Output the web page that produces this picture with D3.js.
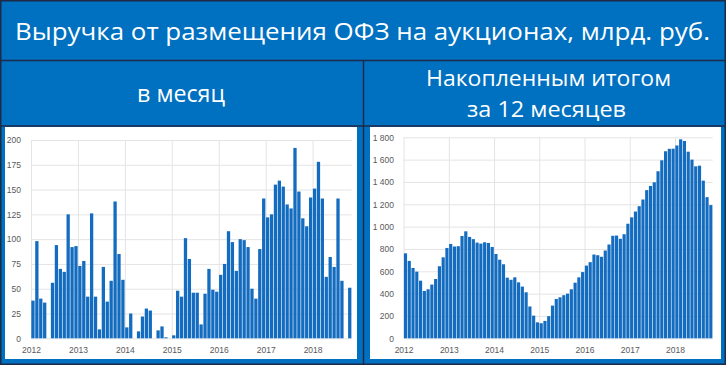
<!DOCTYPE html>
<html>
<head>
<meta charset="utf-8">
<script src="https://cdn.jsdelivr.net/npm/d3@7"></script>
<style>
  body { margin: 0; background: #0070c0; }
  svg { display: block; font-family: 'Open Sans', sans-serif; }
  .axis text { fill: #595959; font-size: 8.5px; }
  .axis .domain { display: none; }
  .axis line { stroke: #e4e4e4; }
</style>
</head>
<body>
<div id="chart"></div>
<script>
// Тексты
const title = 'Выручка от размещения ОФЗ на аукционах, млрд. руб.';
const leftHeader = ['в месяц'];
const rightHeader = ['Накопленным итогом', 'за 12 месяцев'];

// Годы на оси X (январь 2012 - октябрь 2018)
const years = ['2012', '2013', '2014', '2015', '2016', '2017', '2018'];

// Выручка в месяц, млрд. руб.
const monthly = [
  38, 98, 40, 36, 0, 56, 94, 70, 67, 125, 92, 93,
  73, 78, 42, 126, 42, 9, 72, 37, 58, 138, 85, 59,
  11, 25, 0, 7, 22, 30, 28, 0, 8, 12, 1, 0,
  3, 48, 42, 101, 80, 46, 46, 14, 45, 70, 49, 47,
  64, 75, 108, 97, 68, 100, 99, 92, 50, 40, 90, 141,
  122, 125, 155, 159, 153, 135, 131, 192, 148, 121, 113, 142,
  151, 178, 141, 62, 82, 72, 141, 58, 0, 51
];

// Накопленным итогом за 12 месяцев, млрд. руб.
const rolling12 = [
  761, 693, 630, 597, 516, 424, 439, 481, 531, 645, 725, 809,
  845, 822, 825, 916, 958, 908, 888, 857, 848, 860, 854, 818,
  755, 704, 663, 543, 524, 546, 501, 463, 412, 285, 203, 143,
  135, 156, 198, 293, 352, 367, 386, 400, 439, 498, 546, 593,
  651, 682, 750, 744, 730, 786, 840, 918, 920, 891, 932, 1026,
  1083, 1135, 1183, 1243, 1327, 1364, 1397, 1496, 1594, 1675, 1697, 1698,
  1727, 1782, 1767, 1671, 1600, 1540, 1546, 1412, 1264, 1193
];

const leftTicks = [0, 25, 50, 75, 100, 125, 150, 175, 200];
const rightTicks = [0, 200, 400, 600, 800, 1000, 1200, 1400, 1600, 1800];

const width = 726;
const height = 365;
const dark = '#1d2a48';
const barColor = '#136cbf';

const ruLocale = d3.formatLocale({ decimal: ',', thousands: ' ', grouping: [3], currency: ['', ''] });

const svg = d3.select('#chart')
  .append('svg')
  .attr('width', width)
  .attr('height', height);

// Фон
svg.append('rect')
  .attr('width', width)
  .attr('height', height)
  .attr('fill', '#0070c0');

function drawHeaders() {
  const header = (text, x, y, len, size) => svg.append('text')
    .attr('x', x)
    .attr('y', y)
    .attr('text-anchor', 'middle')
    .attr('fill', 'white')
    .style('font-size', size + 'px')
    .attr('textLength', len)
    .attr('lengthAdjust', 'spacingAndGlyphs')
    .text(text);

  header(title, 362.5, 40, 695, 24);
  header(leftHeader[0], 181, 102, 88, 24);
  header(rightHeader[0], 548.5, 86, 245, 22);
  header(rightHeader[1], 546.5, 117, 159, 22);

  // Разделительные линии
  svg.append('line').attr('x1', 0).attr('x2', width).attr('y1', 60.5).attr('y2', 60.5)
    .attr('stroke', dark).attr('stroke-width', 1.5);
  svg.append('line').attr('x1', 0).attr('x2', width).attr('y1', 126).attr('y2', 126)
    .attr('stroke', dark).attr('stroke-width', 1.5);
  svg.append('line').attr('x1', 363.5).attr('x2', 363.5).attr('y1', 60).attr('y2', height)
    .attr('stroke', dark).attr('stroke-width', 1.5);
  svg.append('rect').attr('x', 0.75).attr('y', 0.75)
    .attr('width', width - 1.5).attr('height', height - 1.5)
    .attr('fill', 'none').attr('stroke', dark).attr('stroke-width', 1.5);
}

function drawPanel(cfg, values, ticks, fmt) {
  // Белая подложка
  svg.append('rect')
    .attr('x', cfg.x0)
    .attr('y', cfg.y0)
    .attr('width', cfg.x1 - cfg.x0)
    .attr('height', cfg.y1 - cfg.y0)
    .attr('fill', 'white');

  const n = values.length;
  const x = d3.scaleBand().domain(d3.range(n)).range([cfg.left, cfg.right]).paddingInner(0.16).paddingOuter(0.08);
  const xl = d3.scaleLinear().domain([0, n]).range([cfg.left, cfg.right]);
  const y = d3.scaleLinear().domain([0, ticks[ticks.length - 1]]).range([cfg.bottom, cfg.top]);

  // Ось Y и горизонтальные линии
  svg.append('g')
    .attr('class', 'axis')
    .attr('transform', `translate(${cfg.left},0)`)
    .call(d3.axisLeft(y).tickValues(ticks).tickFormat(fmt)
      .tickSize(-(cfg.right - cfg.left)).tickPadding(cfg.left - cfg.labelX));

  // Ось X и вертикальные линии по годам
  const janIdx = years.map((yr, i) => i * 12);
  svg.append('g')
    .attr('class', 'axis')
    .attr('transform', `translate(0,${cfg.bottom})`)
    .call(d3.axisBottom(xl).tickValues(janIdx).tickFormat((d, i) => years[i])
      .tickSize(-(cfg.bottom - cfg.top)).tickPadding(9));

  // Столбцы
  svg.append('g')
    .selectAll('rect')
    .data(values)
    .enter()
    .append('rect')
    .attr('x', (d, i) => x(i))
    .attr('width', x.bandwidth())
    .attr('y', d => y(d))
    .attr('height', d => cfg.bottom - y(d))
    .attr('fill', barColor);
}

drawHeaders();

drawPanel({ x0: 5, x1: 357, y0: 127, y1: 359, left: 31, right: 351.7, top: 140, bottom: 338.3, labelX: 21 },
  monthly, leftTicks, d3.format('d'));

drawPanel({ x0: 370, x1: 721, y0: 127, y1: 359, left: 403.6, right: 712.7, top: 137.3, bottom: 338.3, labelX: 394 },
  rolling12, rightTicks, ruLocale.format(',d'));
</script>
</body>
</html>
